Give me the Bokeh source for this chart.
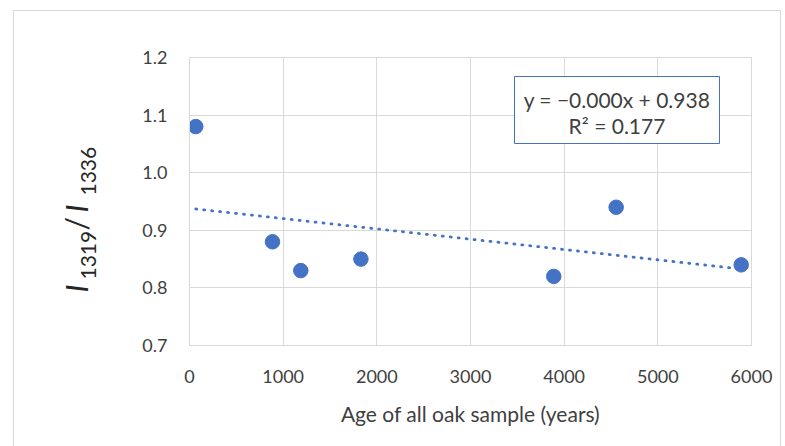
import numpy as np
from bokeh.plotting import figure
from bokeh.layouts import row
from bokeh.models import Range1d, FixedTicker, NumeralTickFormatter, Label, BoxAnnotation
from bokeh.embed import file_html
from bokeh.resources import INLINE

# ---- data ----
ages = [67, 886, 1188, 1830, 3889, 4555, 5890]
ratios = [1.08, 0.88, 0.83, 0.85, 0.82, 0.94, 0.84]
x_ticks = [0, 1000, 2000, 3000, 4000, 5000, 6000]
y_ticks = [0.7, 0.8, 0.9, 1.0, 1.1, 1.2]
equation_text = "y = \u22120.000x + 0.938"
r2_text = "R\u00b2 = 0.177"
x_title = "Age of all oak sample (years)"

BLUE = "#4472C4"
GRID = "#d9d9d9"
TXT = "#404040"
FONT = "Lato"

X0, X1 = 0, 6000
Y0, Y1 = 0.7, 1.2

# ---- layout (page pixels) ----
TOTAL_H = 435
TITLE_W = 100
MAIN_W = 666
PAGE_L, PAGE_T = 14, 11          # top-left of content inside border
FR_L, FR_R, FR_T, FR_B = 189, 751, 57, 345


def px_x(px):
    return X0 + (px - FR_L) * (X1 - X0) / (FR_R - FR_L)


def px_y(py):
    return Y1 - (py - FR_T) * (Y1 - Y0) / (FR_B - FR_T)


main_left = PAGE_L + TITLE_W
p = figure(
    output_backend="svg", toolbar_location=None, title=None,
    width=MAIN_W, height=TOTAL_H,
    frame_width=FR_R - FR_L, frame_height=FR_B - FR_T,
    min_border_left=FR_L - main_left,
    min_border_right=MAIN_W - (FR_L - main_left) - (FR_R - FR_L),
    min_border_top=FR_T - PAGE_T,
    min_border_bottom=TOTAL_H - (FR_T - PAGE_T) - (FR_B - FR_T),
    x_range=Range1d(X0, X1), y_range=Range1d(Y0, Y1),
)
p.outline_line_color = GRID
p.background_fill_color = "white"
p.border_fill_color = "white"

p.xaxis.ticker = FixedTicker(ticks=x_ticks)
p.yaxis.ticker = FixedTicker(ticks=y_ticks)
p.yaxis.formatter = NumeralTickFormatter(format="0.0")
for ax in (p.xaxis, p.yaxis):
    ax.axis_line_color = GRID
    ax.major_tick_line_color = None
    ax.minor_tick_line_color = None
    ax.major_tick_in = 0
    ax.major_tick_out = 0
    ax.major_label_text_font = FONT
    ax.major_label_text_font_size = "18px"
    ax.major_label_text_color = TXT
p.xaxis.major_label_standoff = 24
p.yaxis.major_label_standoff = 22
p.xaxis.axis_label = x_title
p.xaxis.axis_label_text_font = FONT
p.xaxis.axis_label_text_font_size = "21px"
p.xaxis.axis_label_text_font_style = "normal"
p.xaxis.axis_label_text_color = TXT
p.xaxis.axis_label_standoff = 15
p.grid.grid_line_color = GRID
p.grid.grid_line_width = 1

# trendline (least squares)
b, a = np.polyfit(np.array(ages, float), np.array(ratios, float), 1)
tx = np.array([min(ages), max(ages)], float)
p.line(tx, a + b * tx, line_color=BLUE, line_width=2.8, line_dash="1 7", line_cap="round")

p.scatter(ages, ratios, size=14.5, marker="circle", fill_color=BLUE, line_color=BLUE)

# equation box
box = BoxAnnotation(left=px_x(514), right=px_x(719), top=px_y(76), bottom=px_y(143),
                    fill_color="white", fill_alpha=1.0, line_color=BLUE, line_width=1,
                    line_alpha=1.0, editable=False)
p.add_layout(box)
for txt, py in ((equation_text, 98.5), (r2_text, 125)):
    p.add_layout(Label(x=px_x(616.5), y=px_y(py), text=txt, text_align="center",
                       text_baseline="middle", text_font=FONT, text_font_size="21px",
                       text_color=TXT))

# ---- y-axis title panel: I_1319 / I_1336 ----
t = figure(
    output_backend="svg", toolbar_location=None, title=None,
    width=TITLE_W, height=TOTAL_H, frame_width=TITLE_W, frame_height=TOTAL_H,
    min_border=0, x_range=Range1d(0, TITLE_W), y_range=Range1d(0, TOTAL_H),
    x_axis_type=None, y_axis_type=None,
)
t.grid.visible = False
t.outline_line_color = None
t.background_fill_color = "white"
t.border_fill_color = "white"

# (text, start page-y, baseline page-x, size, style) - empirically corrected anchors
DX, DY = -12, -44
pieces = [
    ("I", 290, 87, "30px", "italic"),
    ("1319", 277, 100, "21px", "normal"),
    ("/", 228, 87, "30px", "normal"),
    ("I", 210, 87, "30px", "italic"),
    ("1336", 193, 100, "21px", "normal"),
]
for txt, py, px, fs, style in pieces:
    t.add_layout(Label(x=px + DX - PAGE_L, y=TOTAL_H - (py + DY - PAGE_T), text=txt,
                       angle=np.pi / 2, text_align="left", text_baseline="alphabetic",
                       text_font=FONT, text_font_size=fs, text_font_style=style,
                       text_color="#262626"))

layout = row(t, p, spacing=0)
layout.margin = (10, 0, 0, 13)
layout.styles = {"border-top": "1px solid #d9d9d9", "border-left": "1px solid #d9d9d9",
                 "border-right": "1px solid #d9d9d9"}

open("out.html", "w").write(file_html(layout, INLINE))
